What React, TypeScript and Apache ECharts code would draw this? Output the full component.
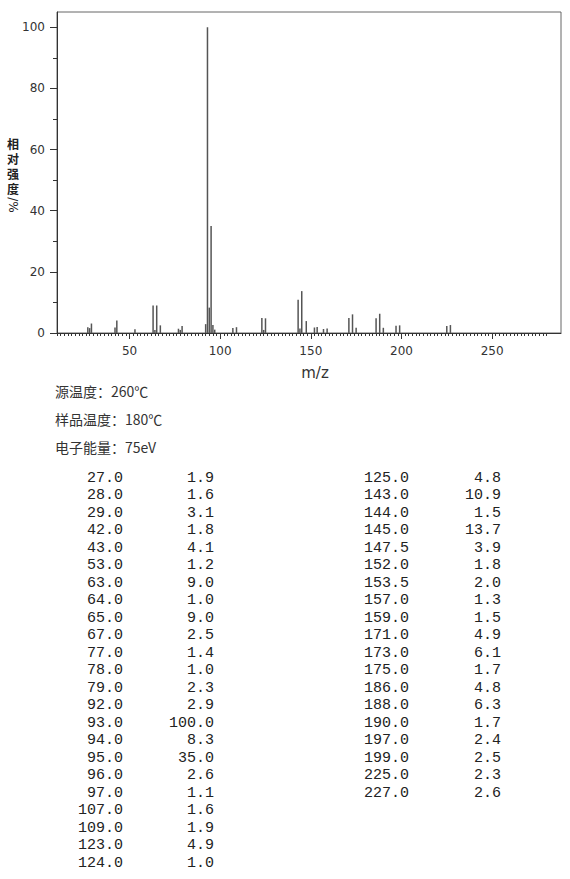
import React, { useEffect, useRef } from "react";
import * as echarts from "echarts";

// m/z peaks and relative intensities (%)
const mzValues = [27, 28, 29, 42, 43, 53, 63, 64, 65, 67, 77, 78, 79, 92, 93, 94, 95, 96, 97, 107, 109, 123, 124,
  125, 143, 144, 145, 147.5, 152, 153.5, 157, 159, 171, 173, 175, 186, 188, 190, 197, 199, 225, 227];
const intensities = [1.9, 1.6, 3.1, 1.8, 4.1, 1.2, 9.0, 1.0, 9.0, 2.5, 1.4, 1.0, 2.3, 2.9, 100.0, 8.3, 35.0, 2.6, 1.1, 1.6, 1.9, 4.9, 1.0,
  4.8, 10.9, 1.5, 13.7, 3.9, 1.8, 2.0, 1.3, 1.5, 4.9, 6.1, 1.7, 4.8, 6.3, 1.7, 2.4, 2.5, 2.3, 2.6];

const xLabelValues = [50, 100, 150, 200, 250];
const yLabelValues = [0, 20, 40, 60, 80, 100];
const yMinorTickValues = [10, 30, 50, 70, 90];
const infoLines = ["源温度：260℃", "样品温度：180℃", "电子能量：75eV"];
const yTitle = "相\n对\n强\n度";
const yTitleUnit = "/%";
const xTitle = "m/z";
const leftColumnRows = 23;

export default function App() {
  const ref = useRef<HTMLDivElement>(null);
  useEffect(() => {
    const chart = echarts.init(ref.current!, null, { renderer: "svg" });
    const xMinorTicks: number[] = [];
    for (let v = 10; v <= 280; v += 2) xMinorTicks.push(v);

    const graphics: any[] = [];
    graphics.push({
      type: "text", x: 13, y: 136,
      style: { text: yTitle, font: "bold 12px 'Noto Sans CJK SC'", lineHeight: 15, fill: "#222", align: "center", verticalAlign: "top" },
    });
    graphics.push({
      type: "text", x: 13, y: 205, rotation: -Math.PI / 2,
      style: { text: yTitleUnit, font: "12px 'DejaVu Sans'", fill: "#222", align: "center", verticalAlign: "middle" },
    });
    graphics.push({
      type: "text", x: 315, y: 373,
      style: { text: xTitle, font: "15px 'DejaVu Sans'", fill: "#333", align: "center", verticalAlign: "middle" },
    });
    infoLines.forEach((t, i) => {
      graphics.push({
        type: "text", x: 55, y: 391 + i * 28,
        style: { text: t, font: "14px 'Noto Sans CJK SC'", fill: "#333", align: "left", verticalAlign: "middle" },
      });
    });
    const rowStep = 17.5;
    mzValues.forEach((m, i) => {
      const col = i < leftColumnRows ? 0 : 1;
      const row = col === 0 ? i : i - leftColumnRows;
      const y = 478 + row * rowStep;
      const x1 = col === 0 ? 123 : 409;
      const x2 = col === 0 ? 214 : 501;
      graphics.push({
        type: "text", x: x1, y,
        style: { text: m.toFixed(1), font: "15px 'Liberation Mono'", fill: "#222", align: "right", verticalAlign: "middle" },
      });
      graphics.push({
        type: "text", x: x2, y,
        style: { text: intensities[i].toFixed(1), font: "15px 'Liberation Mono'", fill: "#222", align: "right", verticalAlign: "middle" },
      });
    });

    chart.setOption({
      animation: false,
      backgroundColor: "#fff",
      grid: { left: 57, right: 9, top: 12, bottom: 546, show: true, borderColor: "#666", borderWidth: 1, backgroundColor: "transparent" },
      xAxis: [
        {
          type: "value", min: 10, max: 288, position: "bottom",
          axisLine: { show: true, lineStyle: { color: "#333", width: 1 } },
          axisTick: { show: true, customValues: xMinorTicks, length: 3, lineStyle: { color: "#333" } },
          axisLabel: { show: false },
          splitLine: { show: false },
        },
        {
          type: "value", min: 10, max: 288, position: "bottom",
          axisLine: { show: false },
          axisTick: { show: true, customValues: xLabelValues, length: 6, lineStyle: { color: "#333" } },
          axisLabel: { show: true, customValues: xLabelValues, margin: 12, fontSize: 12, fontFamily: "DejaVu Sans", color: "#333" },
          splitLine: { show: false },
        },
      ],
      yAxis: [
        {
          type: "value", min: 0, max: 105, position: "left",
          axisLine: { show: true, lineStyle: { color: "#333", width: 1 } },
          axisTick: { show: true, customValues: yLabelValues, length: 7, lineStyle: { color: "#333" } },
          axisLabel: { show: true, customValues: yLabelValues, margin: 12, fontSize: 12, fontFamily: "DejaVu Sans", color: "#333" },
          splitLine: { show: false },
        },
        {
          type: "value", min: 0, max: 105, position: "left",
          axisLine: { show: false },
          axisTick: { show: true, customValues: yMinorTickValues, length: 4, lineStyle: { color: "#333" } },
          axisLabel: { show: false },
          splitLine: { show: false },
        },
      ],
      series: [
        {
          type: "bar", xAxisIndex: 0, yAxisIndex: 0,
          barWidth: 1.5,
          itemStyle: { color: "#555" },
          data: mzValues.map((m, i) => [m, intensities[i]]),
        },
      ],
      graphic: graphics,
    });
    return () => chart.dispose();
  }, []);
  return <div ref={ref} style={{ position: "absolute", left: 0, top: 0, width: 570, height: 879, background: "#fff" }} />;
}
